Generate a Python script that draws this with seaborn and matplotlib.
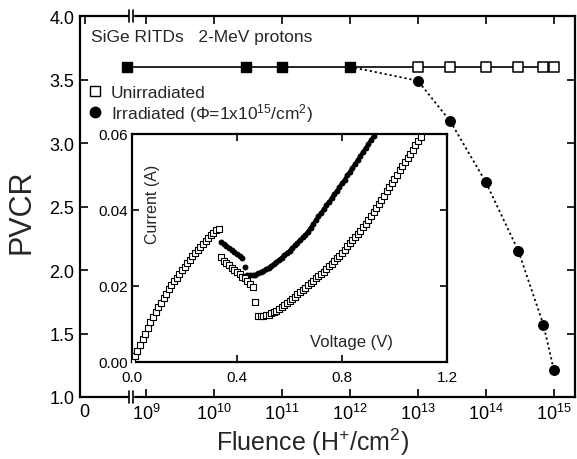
import numpy as np
import pandas as pd
import seaborn as sns
import matplotlib.pyplot as plt
from matplotlib.lines import Line2D
from matplotlib.patches import Rectangle

# ---- main panel: PVCR vs proton fluence ----
fluence = [0, 3e10, 1e11, 1e12, 1e13, 3e13, 1e14, 3e14, 7e14, 1e15]
pvcr_unirr = [3.6, 3.6, 3.6, 3.6, 3.6, 3.6, 3.6, 3.6, 3.6, 3.6]
filled = [True, True, True, True, False, False, False, False, False, False]
irr_fluence = [1e12, 1e13, 3e13, 1e14, 3e14, 7e14, 1e15]
pvcr_irr = [3.6, 3.49, 3.17, 2.69, 2.15, 1.57, 1.21]
x_decades = [9, 10, 11, 12, 13, 14, 15]
y_ticks = [1.0, 1.5, 2.0, 2.5, 3.0, 3.5, 4.0]

# ---- inset: I-V curves, 10 mV steps, current in mA ----
v_step = 0.01
rise = [0.0, 1.5, 3.0, 4.5, 6.0, 7.5, 9.0, 10.5, 11.8, 13.1, 14.4, 15.6, 16.8, 18.0,
        19.1, 20.2, 21.2, 22.2, 23.2, 24.2, 25.1, 26.0, 26.9, 27.8, 28.6, 29.4, 30.2,
        31.0, 31.8, 32.6, 33.3, 34.0, 34.7, 35.0]
current_unirr = rise + [
    27.6, 26.7, 26.0, 25.4, 24.8, 24.2, 23.6, 23.1, 22.5, 22.0, 21.4, 20.6, 19.8, 15.8,
    12.2, 12.1, 12.2, 12.3, 12.5, 12.8, 13.1, 13.5, 13.9, 14.4, 14.9, 15.4, 16.0, 16.6,
    17.2, 17.8, 18.4, 19.0, 19.6, 20.2, 20.8, 21.4, 22.0, 22.6, 23.2, 23.8, 24.5, 25.2,
    25.9, 26.6, 27.3, 28.0, 28.8, 29.6, 30.4, 31.2, 32.0, 32.8, 33.6, 34.5, 35.4, 36.4,
    37.4, 38.4, 39.4, 40.5, 41.6, 42.7, 43.8, 44.9, 46.0, 47.1, 48.2, 49.3, 50.4, 51.5,
    52.6, 53.7, 54.8, 55.9, 57.0, 58.1, 59.2]
current_irr = rise + [
    31.5, 31.0, 30.5, 30.0, 29.5, 29.0, 28.5, 28.0, 27.3, 25.0, 23.0, 22.8, 22.8, 23.0,
    23.3, 23.6, 24.0, 24.4, 24.8, 25.3, 25.8, 26.3, 26.9, 27.5, 28.1, 28.7, 29.3, 30.0,
    30.7, 31.4, 32.1, 32.8, 33.5, 34.3, 35.3, 36.3, 37.3, 38.3, 39.2, 40.2, 41.2, 42.1,
    43.1, 44.1, 45.0, 46.0, 47.0, 48.0, 49.1, 50.1, 51.1, 52.2, 53.2, 54.2, 55.3, 56.3,
    57.3, 58.4, 59.4]

sns.set_theme(style="ticks")
plt.rcParams['font.family'] = ['Liberation Sans', 'DejaVu Sans']
plt.rcParams['mathtext.fontset'] = 'custom'
plt.rcParams['mathtext.rm'] = 'Liberation Sans'
plt.rcParams['mathtext.it'] = 'Liberation Sans:italic'
plt.rcParams['mathtext.bf'] = 'Liberation Sans:bold'

ZERO_POS = 8.72   # where the zero-fluence point sits (at the axis break)
def fpos(f):
    f = np.asarray(f, dtype=float)
    return np.where(f > 0, np.log10(np.where(f > 0, f, 1.0)), ZERO_POS)

main = pd.DataFrame({'x': fpos(fluence), 'pvcr': pvcr_unirr, 'filled': filled})
irr = pd.DataFrame({'x': fpos(irr_fluence), 'pvcr': pvcr_irr})

fig = plt.figure(figsize=(5.77, 4.6), dpi=100)
ax = fig.add_axes([80/577, 1-398/460, 495/577, 381/460])

sns.lineplot(data=irr, x='x', y='pvcr', color='black', lw=1.3, ls=(0, (1.2, 1.6)),
             sort=False, ax=ax, zorder=2)
sns.lineplot(data=main, x='x', y='pvcr', color='black', lw=1.2, sort=False, ax=ax, zorder=3)
sns.scatterplot(data=irr.iloc[1:], x='x', y='pvcr', marker='o', s=62, color='black',
                edgecolor='black', linewidth=0, ax=ax, zorder=4)
sns.scatterplot(data=main[main.filled], x='x', y='pvcr', marker='s', s=48, color='black',
                edgecolor='black', linewidth=1, ax=ax, zorder=5)
sns.scatterplot(data=main[~main.filled], x='x', y='pvcr', marker='s', s=44, color='white',
                edgecolor='black', linewidth=1.1, ax=ax, zorder=5)

ax.set_xlim(8.03, 15.31)
ax.set_ylim(1.0, 4.0)
ax.set_xticks([8.1] + x_decades)
ax.set_xticklabels(['0'] + ['$10^{%d}$' % d for d in x_decades])
ax.xaxis.get_major_ticks()[0].tick1line.set_visible(False)
ax.xaxis.get_major_ticks()[0].tick2line.set_visible(False)
ax.set_yticks(y_ticks)
ax.set_yticklabels(['%.1f' % v for v in y_ticks])
ax.tick_params(direction='in', top=True, right=True, length=6, width=1.2,
               labelsize=13, pad=4, colors='black')
for s in ax.spines.values():
    s.set_linewidth(1.6)
    s.set_color('black')
ax.set_xlabel('Fluence (H$^{+}$/cm$^{2}$)', fontsize=18)
ax.xaxis.set_label_coords(0.469, -0.075, transform=ax.transAxes)
ax.set_ylabel('PVCR', fontsize=22)
ax.yaxis.set_label_coords(-0.088, 0.49)

# axis break marks
trans = ax.get_xaxis_transform()
for yb in (0, 1):
    ax.add_patch(Rectangle((8.745, yb - 0.012), 0.07, 0.024, transform=trans,
                           color='white', clip_on=False, zorder=6))
    for xb in (8.745, 8.815):
        ax.plot([xb, xb], [yb - 0.017, yb + 0.017], transform=trans, color='black',
                lw=1.2, clip_on=False, zorder=7)

ax.text(0.022, 0.945, 'SiGe RITDs   2-MeV protons', transform=ax.transAxes,
        fontsize=12.5, va='center', ha='left')
handles = [Line2D([], [], marker='s', ls='none', mfc='white', mec='black', ms=6.5, mew=1),
           Line2D([], [], marker='o', ls='none', mfc='black', mec='black', ms=7.5)]
ax.legend(handles, ['Unirradiated', 'Irradiated ($\\Phi$=1x10$^{15}$/cm$^{2}$)'],
          loc='upper left', bbox_to_anchor=(88/577, 1-86/460), bbox_transform=fig.transFigure,
          frameon=False, fontsize=12.5, handlelength=0.8, handletextpad=0.5,
          labelspacing=0.05, borderpad=0, borderaxespad=0)

# ---- inset ----
ins = fig.add_axes([132/577, 1-363/460, 315/577, 228/460])
iv_unirr = pd.DataFrame({'V': np.arange(len(current_unirr)) * v_step,
                         'I': np.array(current_unirr) / 1000})
iv_irr = pd.DataFrame({'V': np.arange(len(current_irr)) * v_step,
                       'I': np.array(current_irr) / 1000})
# dense filled dots render as a thick trace
sns.lineplot(data=iv_irr.iloc[34:43], x='V', y='I', color='black', lw=2.6, ax=ins, zorder=2)
sns.lineplot(data=iv_irr.iloc[44:], x='V', y='I', color='black', lw=2.6, ax=ins, zorder=2)
sns.scatterplot(data=iv_irr, x='V', y='I', marker='o', s=18, color='black', linewidth=0,
                ax=ins, zorder=3)
sns.scatterplot(data=iv_unirr, x='V', y='I', marker='s', s=20, color='white',
                edgecolor='black', linewidth=0.8, ax=ins, zorder=4)
ins.set_xlim(0, 1.2)
ins.set_ylim(0, 0.06)
ins.set_xticks([0, 0.4, 0.8, 1.2])
ins.set_xticklabels(['0.0', '0.4', '0.8', '1.2'])
ins.set_yticks([0, 0.02, 0.04, 0.06])
ins.set_yticklabels(['0.00', '0.02', '0.04', '0.06'])
ins.tick_params(direction='in', top=True, right=True, length=5, width=1.2,
                labelsize=11, colors='black')
ins.tick_params(axis='x', pad=6)
ins.tick_params(axis='y', pad=3)
for s in ins.spines.values():
    s.set_linewidth(1.6)
    s.set_color('black')
ins.set_xlabel('')
ins.set_ylabel('')
ins.text(0.08, 0.0418, 'Current (A)', rotation=90, ha='center', va='center', fontsize=11.5)
ins.text(0.838, 0.0053, 'Voltage (V)', ha='center', va='center', fontsize=12)

fig.savefig('out.png', dpi=100)
